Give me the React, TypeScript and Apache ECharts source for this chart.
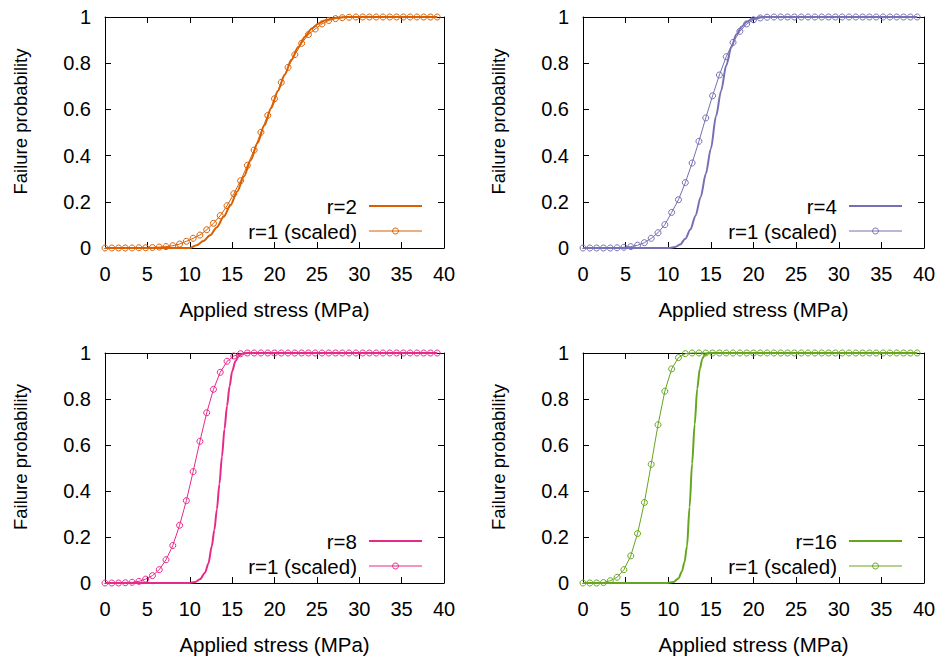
import React, { useEffect, useRef } from "react";
import * as echarts from "echarts";

// Applied stress sample points (MPa) of the r=1 (scaled) curves
const stress = [
  0, 0.8, 1.6, 2.4, 3.2, 4, 4.8, 5.6, 6.4, 7.2, 8, 8.8, 9.6, 10.4, 11.2, 12, 12.8, 13.6, 14.4, 15.2,
  16, 16.8, 17.6, 18.4, 19.2, 20, 20.8, 21.6, 22.4, 23.2, 24, 24.8, 25.6, 26.4, 27.2, 28, 28.8, 29.6,
  30.4, 31.2, 32, 32.8, 33.6, 34.4, 35.2, 36, 36.8, 37.6, 38.4, 39.2,
];

const ratioLabels = ["r=2", "r=4", "r=8", "r=16"];
const scaledLabel = "r=1 (scaled)";
const colors = ["#d95f02", "#7570b3", "#e7298a", "#66a61e"];
const xTitle = "Applied stress (MPa)";
const yTitle = "Failure probability";

// r=1 (scaled) failure probabilities, one per stress point
const scaledR2 = [
  0, 0, 0, 0, 0, 0.001, 0.001, 0.002, 0.004, 0.006, 0.01, 0.017, 0.029, 0.042, 0.056, 0.079, 0.107,
  0.14, 0.183, 0.235, 0.291, 0.358, 0.424, 0.501, 0.574, 0.646, 0.717, 0.782, 0.837, 0.886, 0.924,
  0.948, 0.97, 0.985, 0.993, 0.997, 0.999, 1, 1, 1, 1, 1, 1, 1, 1, 1, 1, 1, 1, 1,
];
const scaledR4 = [
  0, 0, 0, 0, 0, 0.001, 0.003, 0.006, 0.012, 0.023, 0.042, 0.066, 0.101, 0.154, 0.209, 0.283, 0.368,
  0.462, 0.563, 0.659, 0.749, 0.828, 0.89, 0.938, 0.97, 0.988, 0.996, 0.999, 1, 1, 1, 1, 1, 1, 1, 1,
  1, 1, 1, 1, 1, 1, 1, 1, 1, 1, 1, 1, 1, 1,
];
const scaledR8 = [
  0, 0, 0, 0.001, 0.003, 0.007, 0.017, 0.032, 0.058, 0.101, 0.163, 0.251, 0.358, 0.484, 0.616, 0.74,
  0.842, 0.916, 0.964, 0.987, 0.997, 1, 1, 1, 1, 1, 1, 1, 1, 1, 1, 1, 1, 1, 1, 1, 1, 1, 1, 1, 1, 1, 1,
  1, 1, 1, 1, 1, 1, 1,
];
const scaledR16 = [
  0, 0, 0, 0.002, 0.01, 0.025, 0.058, 0.118, 0.215, 0.35, 0.516, 0.688, 0.834, 0.931, 0.98, 0.997, 1,
  1, 1, 1, 1, 1, 1, 1, 1, 1, 1, 1, 1, 1, 1, 1, 1, 1, 1, 1, 1, 1, 1, 1, 1, 1, 1, 1, 1, 1, 1, 1, 1, 1,
];

// r = 2, 4, 8, 16 curves as [stress, probability]
const curveR2 = [
  [0, 0], [10, 0], [10.8, 0.012], [11.6, 0.03], [12.4, 0.055], [13.2, 0.09], [14, 0.135], [14.8, 0.185],
  [15.6, 0.245], [16.4, 0.31], [17.2, 0.38], [18, 0.455], [18.8, 0.53], [19.6, 0.605], [20.4, 0.68],
  [21.2, 0.75], [22, 0.815], [22.8, 0.87], [23.6, 0.915], [24.4, 0.95], [25.2, 0.972], [26, 0.986],
  [26.8, 0.994], [27.6, 0.998], [28.4, 1], [39.2, 1],
];
const curveR4 = [
  [0, 0], [10.2, 0], [10.8, 0.004], [11.4, 0.015], [12, 0.04], [12.6, 0.08], [13.2, 0.14], [13.8, 0.22],
  [14.4, 0.32], [15, 0.43], [15.6, 0.57], [16.2, 0.68], [16.8, 0.79], [17.4, 0.87], [18, 0.925],
  [18.6, 0.958], [19.2, 0.979], [19.8, 0.991], [20.4, 0.997], [21, 1], [39.2, 1],
];
const curveR8 = [
  [0, 0], [10, 0], [10.6, 0.004], [11.2, 0.016], [11.8, 0.045], [12.2, 0.085], [12.6, 0.16], [12.9, 0.23],
  [13.2, 0.32], [13.5, 0.43], [13.8, 0.55], [14.1, 0.67], [14.4, 0.77], [14.7, 0.855], [15, 0.92],
  [15.4, 0.965], [15.8, 0.988], [16.2, 0.997], [16.8, 1], [39.2, 1],
];
const curveR16 = [
  [0, 0], [9.9, 0], [10.6, 0.004], [11.2, 0.02], [11.6, 0.05], [11.9, 0.09], [12.2, 0.16], [12.5, 0.33],
  [12.8, 0.52], [13.1, 0.69], [13.4, 0.845], [13.7, 0.93], [14, 0.975], [14.3, 0.993], [14.7, 1], [39.2, 1],
];

const scaledSets = [scaledR2, scaledR4, scaledR8, scaledR16];
const curveSets = [curveR2, curveR4, curveR8, curveR16];

const FONT = "Arial, 'Liberation Sans', Helvetica, sans-serif";

const grids = [
  { left: 105, top: 17, width: 339, height: 231 },
  { left: 583, top: 17, width: 341, height: 231 },
  { left: 105, top: 353, width: 339, height: 230 },
  { left: 583, top: 353, width: 341, height: 230 },
];

export default function App() {
  const ref = useRef<HTMLDivElement>(null);

  useEffect(() => {
    if (!ref.current) return;
    const chart = echarts.init(ref.current, undefined, { renderer: "svg" });

    const xAxes: any[] = [];
    const yAxes: any[] = [];
    const series: any[] = [];
    const graphics: any[] = [];

    const tick = { show: true, inside: true, length: 6, lineStyle: { color: "#000", width: 1 } };
    const axisLine = { show: true, onZero: false, lineStyle: { color: "#000", width: 1 } };

    grids.forEach((g, k) => {
      xAxes.push({
        type: "value", gridIndex: k, position: "bottom", min: 0, max: 40, interval: 5,
        axisLine, axisTick: tick, splitLine: { show: false },
        axisLabel: { fontSize: 20, color: "#000", fontFamily: FONT, margin: 16 },
        name: xTitle, nameLocation: "middle", nameGap: 51,
        nameTextStyle: { fontSize: 20.5, color: "#000", fontFamily: FONT },
      });
      xAxes.push({
        type: "value", gridIndex: k, position: "top", min: 0, max: 40, interval: 5,
        axisLine, axisTick: tick, splitLine: { show: false }, axisLabel: { show: false },
      });
      yAxes.push({
        type: "value", gridIndex: k, position: "left", min: 0, max: 1, interval: 0.2,
        axisLine, axisTick: tick, splitLine: { show: false },
        axisLabel: { fontSize: 20, color: "#000", fontFamily: FONT, margin: 14 },
        name: yTitle, nameLocation: "middle", nameGap: 75,
        nameTextStyle: { fontSize: 18.5, color: "#000", fontFamily: FONT, padding: [0, 0, 0, 22] },
      });
      yAxes.push({
        type: "value", gridIndex: k, position: "right", min: 0, max: 1, interval: 0.2,
        axisLine, axisTick: tick, splitLine: { show: false }, axisLabel: { show: false },
      });

      const c = colors[k];
      series.push({
        type: "line", name: scaledLabel, xAxisIndex: 2 * k, yAxisIndex: 2 * k,
        data: stress.map((x, i) => [x, scaledSets[k][i]]),
        symbol: "circle", symbolSize: 6, showSymbol: true, clip: false,
        itemStyle: { color: "rgba(0,0,0,0)", borderColor: c, borderWidth: 1 },
        lineStyle: { color: c, width: 1 },
        z: 2,
      });
      series.push({
        type: "line", name: ratioLabels[k], xAxisIndex: 2 * k, yAxisIndex: 2 * k,
        data: curveSets[k], symbol: "none", showSymbol: false, clip: false,
        smooth: 0.3, smoothMonotone: "x",
        lineStyle: { color: c, width: 2 },
        z: 3,
      });

      // legend (key) in the lower right of each panel
      const right = g.left + g.width;
      const bottom = g.top + g.height;
      const textX = right - 87;
      const l1 = right - 75;
      const l2 = right - 22;
      const row1 = bottom - 42;
      const row2 = bottom - 17;
      graphics.push(
        { type: "text", x: textX, y: row1, style: { text: ratioLabels[k], align: "right", verticalAlign: "middle", fontSize: 20.5, fontFamily: FONT, fill: "#000" } },
        { type: "text", x: textX, y: row2, style: { text: scaledLabel, align: "right", verticalAlign: "middle", fontSize: 20.5, fontFamily: FONT, fill: "#000" } },
        { type: "line", shape: { x1: l1, y1: row1, x2: l2, y2: row1 }, style: { stroke: c, lineWidth: 2 } },
        { type: "line", shape: { x1: l1, y1: row2, x2: l2, y2: row2 }, style: { stroke: c, lineWidth: 1 } },
        { type: "circle", shape: { cx: (l1 + l2) / 2, cy: row2, r: 3 }, style: { stroke: c, fill: "none", lineWidth: 1 } },
      );
    });

    chart.setOption({
      animation: false,
      backgroundColor: "#fff",
      grid: grids.map((g) => ({ ...g, containLabel: false })),
      xAxis: xAxes,
      yAxis: yAxes,
      series,
      graphic: graphics,
    });

    return () => chart.dispose();
  }, []);

  return (
    <div
      ref={ref}
      style={{ position: "absolute", left: 0, top: 0, width: 943, height: 662 }}
    />
  );
}
